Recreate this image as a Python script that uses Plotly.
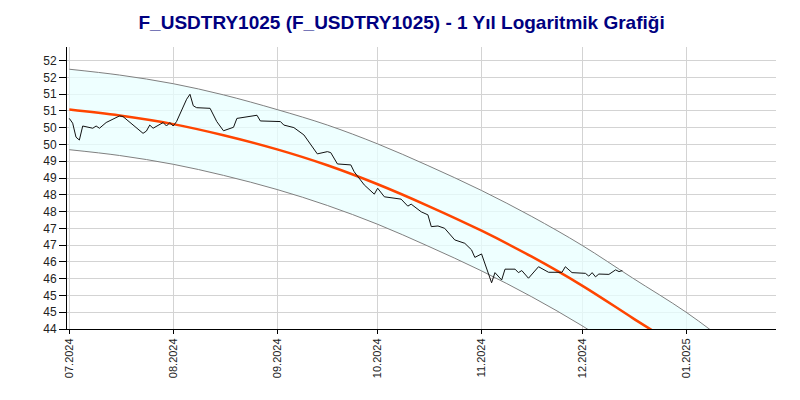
import plotly.graph_objects as go

# ---- data ----
price_dates = ["2024-07-01","2024-07-02","2024-07-03","2024-07-04","2024-07-05","2024-07-08","2024-07-09","2024-07-10",
               "2024-07-12","2024-07-16","2024-07-17","2024-07-23","2024-07-24","2024-07-25","2024-07-26","2024-07-29",
               "2024-07-30","2024-07-31","2024-08-01","2024-08-02","2024-08-05","2024-08-06","2024-08-07","2024-08-08",
               "2024-08-12","2024-08-14","2024-08-16","2024-08-19","2024-08-20","2024-08-23","2024-08-26","2024-08-27",
               "2024-09-02","2024-09-03","2024-09-06","2024-09-09","2024-09-11","2024-09-13","2024-09-16","2024-09-17",
               "2024-09-19","2024-09-23","2024-09-24","2024-09-27","2024-09-30","2024-10-01","2024-10-03","2024-10-08",
               "2024-10-10","2024-10-11","2024-10-14","2024-10-16","2024-10-17","2024-10-19","2024-10-21","2024-10-24",
               "2024-10-27","2024-10-29","2024-10-30","2024-11-01","2024-11-04","2024-11-05","2024-11-07","2024-11-08",
               "2024-11-11","2024-11-12","2024-11-13","2024-11-15","2024-11-18","2024-11-21","2024-11-25","2024-11-26",
               "2024-11-28","2024-12-02","2024-12-03","2024-12-04","2024-12-05","2024-12-06","2024-12-09","2024-12-11",
               "2024-12-12","2024-12-13"]
price_values = [50.44,50.29,49.85,49.76,50.20,50.13,50.20,50.13,
                50.31,50.52,50.50,49.97,50.04,50.23,50.13,50.31,
                50.20,50.31,50.20,50.34,51.05,51.21,50.84,50.78,
                50.76,50.34,50.05,50.16,50.44,50.48,50.54,50.36,
                50.34,50.23,50.15,49.92,49.61,49.33,49.40,49.37,
                49.02,48.99,48.78,48.38,48.10,48.28,48.02,47.95,
                47.74,47.80,47.57,47.48,47.13,47.15,47.08,46.74,
                46.64,46.45,46.23,46.33,45.50,45.79,45.58,45.89,
                45.89,45.79,45.85,45.63,45.96,45.80,45.80,45.96,
                45.79,45.77,45.69,45.79,45.67,45.75,45.74,45.87,
                45.82,45.85]

band_dates = ["2024-07-01","2024-07-16","2024-08-01","2024-08-16","2024-09-01","2024-09-16","2024-10-01","2024-10-16",
              "2024-11-01","2024-11-16","2024-12-01","2024-12-16","2025-01-01","2025-01-16","2025-02-01"]
upper_values = [52.02,51.83,51.55,51.19,50.72,50.23,49.64,48.97,48.21,47.43,46.58,45.64,44.67,43.64,42.56]
center_values = [50.72,50.53,50.26,49.91,49.47,48.98,48.40,47.75,47.01,46.25,45.42,44.51,43.56,42.55,41.50]
lower_values = [49.46,49.28,49.01,48.67,48.24,47.76,47.20,46.56,45.84,45.10,44.29,43.40,42.47,41.49,40.47]

y_tick_values = [44.200,44.667,45.140,45.617,46.099,46.587,47.079,47.577,48.080,
                 48.588,49.102,49.621,50.146,50.676,51.212,51.753,52.301]
y_tick_labels = ["44","45","45","46","46","47","47","48","48","49","49","50","50","51","51","52","52"]
x_tick_values = ["2024-07-01","2024-08-01","2024-09-01","2024-10-01","2024-11-01","2024-12-01","2025-01-01"]
x_tick_labels = ["07.2024","08.2024","09.2024","10.2024","11.2024","12.2024","01.2025"]

title_text = "F_USDTRY1025 (F_USDTRY1025) - 1 Yıl Logaritmik Grafiği"
font_family = "Liberation Sans, Arial, sans-serif"

fig = go.Figure()
fig.add_trace(go.Scatter(x=band_dates, y=upper_values, mode="lines",
                         line=dict(color="#808080", width=1, shape="spline"),
                         hoverinfo="skip"))
fig.add_trace(go.Scatter(x=band_dates, y=lower_values, mode="lines",
                         line=dict(color="#808080", width=1, shape="spline"),
                         fill="tonexty", fillcolor="rgba(232,255,255,0.75)",
                         hoverinfo="skip"))
fig.add_trace(go.Scatter(x=band_dates, y=center_values, mode="lines",
                         line=dict(color="#FF4500", width=2.5, shape="spline")))
fig.add_trace(go.Scatter(x=price_dates, y=price_values, mode="lines",
                         line=dict(color="#111111", width=1)))

fig.update_layout(
    width=800, height=400,
    margin=dict(l=67, r=24, t=47, b=71, autoexpand=False),
    paper_bgcolor="white", plot_bgcolor="white",
    showlegend=False,
    font=dict(family=font_family, color="#222222", size=12),
    title=dict(text="<b>" + title_text + "</b>", x=0.502, xref="container", xanchor="center",
               y=1 - 22 / 400, yref="container", yanchor="middle",
               font=dict(family=font_family, size=19, color="#000080")),
)
fig.update_xaxes(
    type="date", range=["2024-06-30 07:30", "2025-01-27 20:30"],
    tickmode="array", tickvals=x_tick_values, ticktext=x_tick_labels,
    tickangle=-90, tickfont=dict(size=11, color="#222222"),
    ticks="outside", ticklen=4, tickcolor="#000000",
    showgrid=True, gridcolor="#d3d3d3", gridwidth=1,
    showline=True, linecolor="#000000", linewidth=1,
    zeroline=False, automargin=False,
)
fig.update_yaxes(
    type="log", range=[1.645422, 1.722222],
    tickmode="array", tickvals=y_tick_values, ticktext=y_tick_labels,
    tickfont=dict(size=12, color="#222222"),
    ticks="outside", ticklen=7, tickcolor="#000000",
    showgrid=True, gridcolor="#d3d3d3", gridwidth=1,
    showline=True, linecolor="#000000", linewidth=1,
    zeroline=False, automargin=False,
)

fig.write_html("out.html")
